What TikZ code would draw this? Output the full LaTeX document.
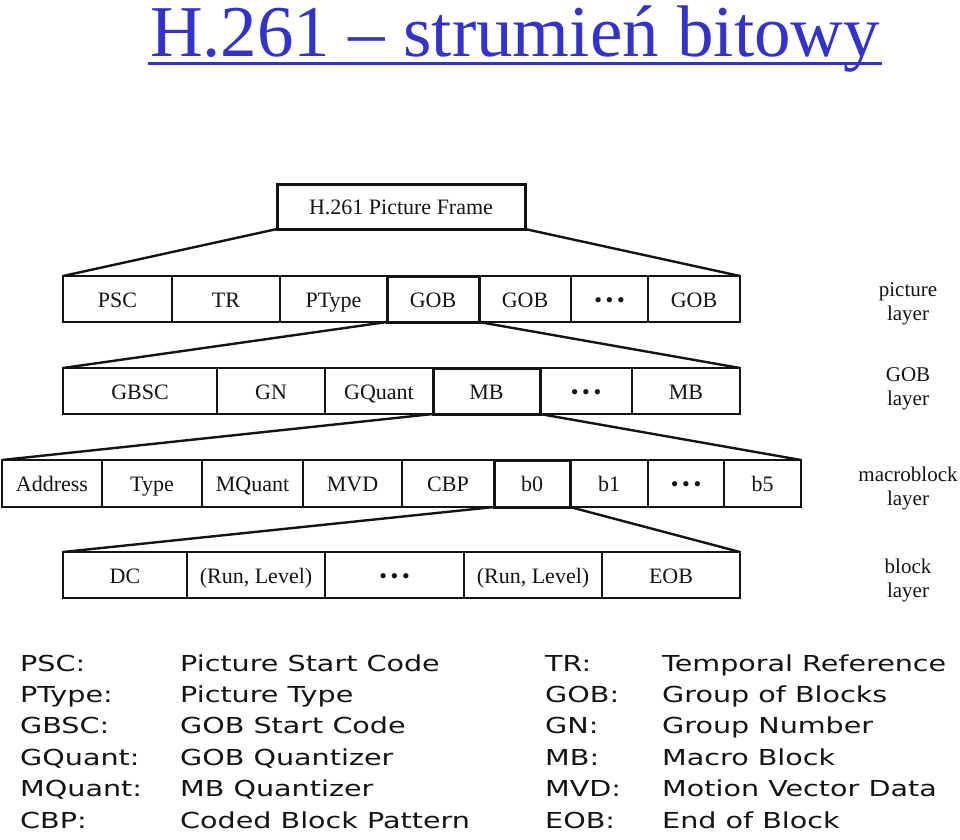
\documentclass[tikz,border=0pt]{standalone}
\usepackage{fontspec}
\setmainfont{Liberation Serif}
\newfontfamily\legendfont{DejaVu Sans}[FakeStretch=1.3]
\usetikzlibrary{positioning}
\definecolor{hblue}{HTML}{3333CC}
\definecolor{hink} {HTML}{141414}
\newcommand{\cellfont}{\fontsize{22}{24}\selectfont}
\newcommand{\layerfont}{\fontsize{21}{24}\selectfont}
\newcommand{\legfont}{\legendfont\fontsize{22}{26}\selectfont}
\newcommand{\celldots}{\textbullet\,\textbullet\,\textbullet}
\tikzset{
  fld/.style={draw=hink, line width=1.2pt, anchor=west, inner sep=0pt,
              outer sep=0pt, minimum height=46, font=\cellfont, text=hink,
              text height=17pt, text depth=1pt},
  hotfld/.style={fld, line width=3pt},
  rowframe/.style={draw=hink, line width=2.6pt},
  fan/.style={draw=hink, line width=2.4pt},
  layerlbl/.style={align=center, font=\layerfont, text=hink, inner sep=0pt},
  legkey/.style={anchor=base west, inner sep=0pt, font=\legfont, text=hink}
}

\begin{document}
\begin{tikzpicture}[x=1pt, y=-1pt]
  \useasboundingbox (0,0) rectangle (960,839);
  % title
  \node[text=hblue, font=\fontsize{73}{78}\selectfont, anchor=base, inner sep=0pt]
    (title) at (515,56) {H.261 -- strumień bitowy};
  \draw[hblue, line width=3pt] ([xshift=-2pt,yshift=-7pt]title.base west)
    -- ([xshift=2pt,yshift=-7pt]title.base east);

  \node[fld, line width=3pt, minimum width=248, minimum height=45] (frame) at (277,206.5)
    {H.261 Picture Frame};

  % picture layer
  \foreach \l/\r/\txt/\nm in {63/172/PSC/psc, 172/280/TR/tr, 280/387/PType/ptype,
                               479/571/GOB/gobB, 571/648/\celldots/pdots, 648/740/GOB/gobN}
    {\node[fld, minimum width=\r-\l] (\nm) at (\l,299) {\txt};}
  \node[hotfld, minimum width=92] (gobA) at (387,299) {GOB};
  \draw[rowframe] (psc.north west) rectangle (gobN.south east);
  \draw[fan] (frame.south west) -- (psc.north west);
  \draw[fan] (frame.south east) -- (gobN.north east);
  \node[layerlbl] (lpic) at (908,304) {picture\\layer};

  % GOB layer
  \foreach \l/\r/\txt/\nm in {63/217/GBSC/gbsc, 217/325/GN/gn, 325/433/GQuant/gquant,
                               540/632/\celldots/gdots, 632/740/MB/mbN}
    {\node[fld, minimum width=\r-\l] (\nm) at (\l,391) {\txt};}
  \node[hotfld, minimum width=107] (mbA) at (433,391) {MB};
  \draw[rowframe] (gbsc.north west) rectangle (mbN.south east);
  \draw[fan] (gobA.south west) -- (gbsc.north west);
  \draw[fan] (gobA.south east) -- (mbN.north east);
  \node[layerlbl] (lgob) at (908,389) {GOB\\layer};

  % macroblock layer
  \foreach \l/\r/\txt/\nm in {2/102/Address/addr, 102/202/Type/type, 202/303/MQuant/mquant,
                               303/402/MVD/mvd, 402/494/CBP/cbp, 570/648/b1/bone,
                               648/724/\celldots/mdots, 724/801/b5/bfive}
    {\node[fld, minimum width=\r-\l, minimum height=47] (\nm) at (\l,483.5) {\txt};}
  \node[hotfld, minimum width=76, minimum height=47] (bzero) at (494,483.5) {b0};
  \draw[rowframe] (addr.north west) rectangle (bfive.south east);
  \draw[fan] (mbA.south west) -- (addr.north west);
  \draw[fan] (mbA.south east) -- (bfive.north east);
  \node[layerlbl] (lmac) at (908,488) {macroblock\\layer};

  % block layer
  \foreach \l/\r/\txt/\nm in {63/187/DC/dc, 187/325/{(Run, Level)}/rlA, 325/464/\celldots/bdots,
                               464/602/{(Run, Level)}/rlB, 602/740/EOB/eob}
    {\node[fld, minimum width=\r-\l] (\nm) at (\l,575) {\txt};}
  \draw[rowframe] (dc.north west) rectangle (eob.south east);
  \draw[fan] (bzero.south west) -- (dc.north west);
  \draw[fan] (bzero.south east) -- (eob.north east);
  \node[layerlbl] (lblk) at (908,580) {block\\layer};

  % legend
  \foreach \k/\d [count=\i from 0] in {PSC:/Picture Start Code, PType:/Picture Type,
      GBSC:/GOB Start Code, GQuant:/GOB Quantizer, MQuant:/MB Quantizer,
      CBP:/Coded Block Pattern}
    {\node[legkey] (lk\i) at (20,671+31.4*\i) {\k};
     \node[legkey] (ld\i) at (180,671+31.4*\i) {\d};}
  \foreach \k/\d [count=\i from 0] in {TR:/Temporal Reference, GOB:/Group of Blocks,
      GN:/Group Number, MB:/Macro Block, MVD:/Motion Vector Data, EOB:/End of Block}
    {\node[legkey] (rk\i) at (545,671+31.4*\i) {\k};
     \node[legkey] (rd\i) at (662,671+31.4*\i) {\d};}
\end{tikzpicture}
\end{document}
